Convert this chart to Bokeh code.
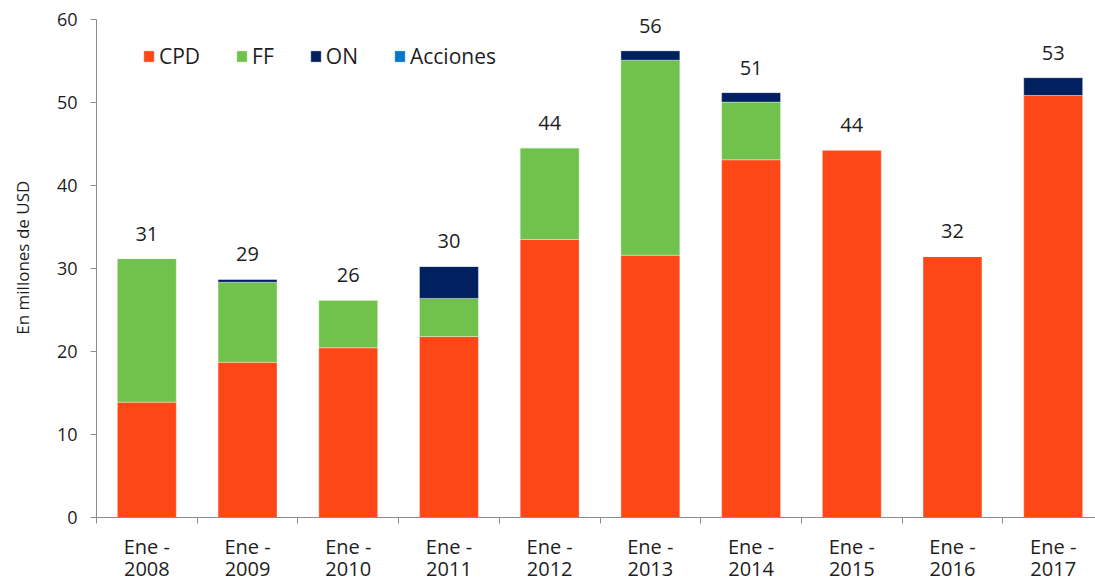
import numpy as np
from bokeh.plotting import figure
from bokeh.models import ColumnDataSource, Range1d, FixedTicker, LabelSet, Label
from bokeh.core.properties import value
from bokeh.embed import file_html
from bokeh.resources import INLINE

# ---- data ----
years = ["2008", "2009", "2010", "2011", "2012", "2013", "2014", "2015", "2016", "2017"]
cat_labels = ["Ene -\n" + y for y in years]
cpd = [13.9, 18.7, 20.45, 21.8, 33.5, 31.6, 43.1, 44.3, 31.45, 50.85]
ff = [17.3, 9.65, 5.75, 4.6, 11.05, 23.5, 6.95, 0.0, 0.0, 0.0]
on = [0.0, 0.35, 0.0, 3.85, 0.0, 1.15, 1.15, 0.0, 0.0, 2.15]
acciones = [0.0] * 10
totals_label = ["31", "29", "26", "30", "44", "56", "51", "44", "32", "53"]
series = ["CPD", "FF", "ON", "Acciones"]
colors = ["#FE4716", "#70C24C", "#002060", "#0076CC"]
y_ticks = [0, 10, 20, 30, 40, 50, 60]
y_title = "En millones de USD"

FONT = "Open Sans"
TXT = "#1e1e1e"

xc = np.arange(len(years)) + 0.5
tot = np.array(cpd) + np.array(ff) + np.array(on) + np.array(acciones)

src = ColumnDataSource(dict(x=xc, CPD=cpd, FF=ff, ON=on, Acciones=acciones,
                            tot=tot, lab=totals_label))

X0, X1 = -0.953, 9.92
p = figure(width=1095, height=581, output_backend="svg", toolbar_location=None,
           x_range=Range1d(X0, X1), y_range=Range1d(-7.71, 62.29),
           min_border_left=0, min_border_right=0, min_border_top=0, min_border_bottom=0)
p.outline_line_color = None
p.xgrid.grid_line_color = None
p.ygrid.grid_line_color = None
p.background_fill_color = "white"

p.vbar_stack(series, x="x", width=0.585, source=src, color=colors,
             line_color="white", line_alpha=0.35, line_width=1,
             legend_label=series)

labels = LabelSet(x="x", y="tot", text="lab", source=src, text_align="center",
                  text_baseline="middle", y_offset=25, text_font=value(FONT),
                  text_font_size="20px", text_color=TXT)
p.add_layout(labels)

# x axis drawn at y = 0: boundary ticks (minor), labels centered
xa = p.xaxis[0]
xa.fixed_location = 0
xa.bounds = (0, X1)
xa.ticker = FixedTicker(ticks=list(xc), minor_ticks=list(range(0, 10)))
xa.major_label_overrides = {float(x): l for x, l in zip(xc, cat_labels)}
xa.major_tick_out = 0
xa.major_tick_in = 0
xa.minor_tick_out = 6
xa.minor_tick_in = 0
xa.major_label_standoff = 9
xa.major_label_text_font = FONT
xa.major_label_text_font_size = "20px"
xa.major_label_text_line_height = 0.85
xa.major_label_text_color = TXT
xa.axis_line_color = "#8c8c8c"
xa.minor_tick_line_color = "#8c8c8c"

# y axis drawn at x = 0
ya = p.yaxis[0]
ya.fixed_location = 0
ya.bounds = (0, 60)
ya.ticker = FixedTicker(ticks=y_ticks)
ya.major_tick_out = 6
ya.major_tick_in = 0
ya.minor_tick_line_color = None
ya.major_label_standoff = 13
ya.major_label_text_font = FONT
ya.major_label_text_font_size = "18px"
ya.major_label_text_color = TXT
ya.axis_line_color = "#8c8c8c"
ya.major_tick_line_color = "#8c8c8c"

ytitle = Label(x=X0, y=31.3, x_offset=22, text=y_title, angle=90, angle_units="deg",
               text_align="center", text_baseline="middle", text_font=FONT,
               text_font_size="17px", text_color=TXT)
p.add_layout(ytitle)

lg = p.legend[0]
lg.orientation = "horizontal"
lg.location = (142, 511)
lg.padding = 0
lg.margin = 0
lg.spacing = 35
lg.label_standoff = 4
lg.glyph_width = 13
lg.glyph_height = 14
lg.label_text_font = FONT
lg.label_text_font_size = "21px"
lg.label_text_color = TXT
lg.border_line_color = None
lg.background_fill_alpha = 0

open("out.html", "w").write(file_html(p, INLINE))
